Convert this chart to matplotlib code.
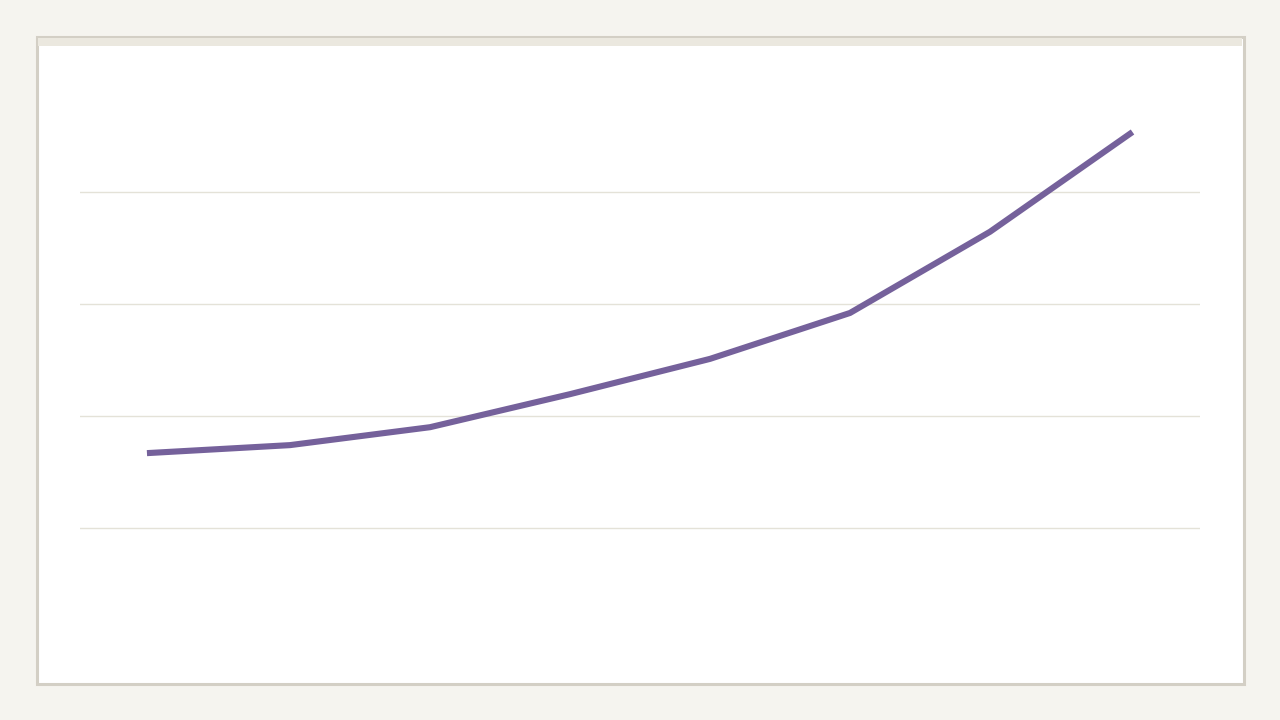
import matplotlib
matplotlib.use("Agg")
import matplotlib.pyplot as plt
from matplotlib.patches import Rectangle

# data (arbitrary units)
categories = ["1", "2", "3", "4", "5", "6", "7", "8"]
values = [33.4, 34.8, 38.0, 43.9, 50.2, 58.4, 72.9, 90.4]
grid_values = [20, 40, 60, 80]

W, H = 1280, 720
fig = plt.figure(figsize=(12.8, 7.2), dpi=100)
fig.patch.set_facecolor("#f5f4ef")

# card with border and top strip
fig.patches.append(Rectangle((36.5 / W, 1 - 683.5 / H), 1207 / W, 647 / H,
                             transform=fig.transFigure, facecolor="white",
                             edgecolor="#d3cfc5", linewidth=2.2, zorder=-2))
fig.patches.append(Rectangle((38 / W, 1 - 46 / H), 1204 / W, 8 / H,
                             transform=fig.transFigure, facecolor="#ebe8df",
                             edgecolor="none", zorder=-1))

ax = fig.add_axes([80 / W, 1 - 640 / H, 1120 / W, 560 / H])
ax.set_zorder(2)
ax.set_facecolor("none")
x = range(len(categories))
ax.plot(x, values, color="#75619b", linewidth=4.4, solid_capstyle="projecting",
        solid_joinstyle="round", zorder=3)
for g in grid_values:
    ax.axhline(g, color="#e4e2d8", linewidth=1.0, zorder=1)

ax.set_xlim(-0.5, len(categories) - 0.5)
ax.set_ylim(0, 100)
ax.set_xticks([])
ax.set_yticks([])
for s in ax.spines.values():
    s.set_visible(False)

fig.savefig("out.png", dpi=100, facecolor=fig.get_facecolor())
